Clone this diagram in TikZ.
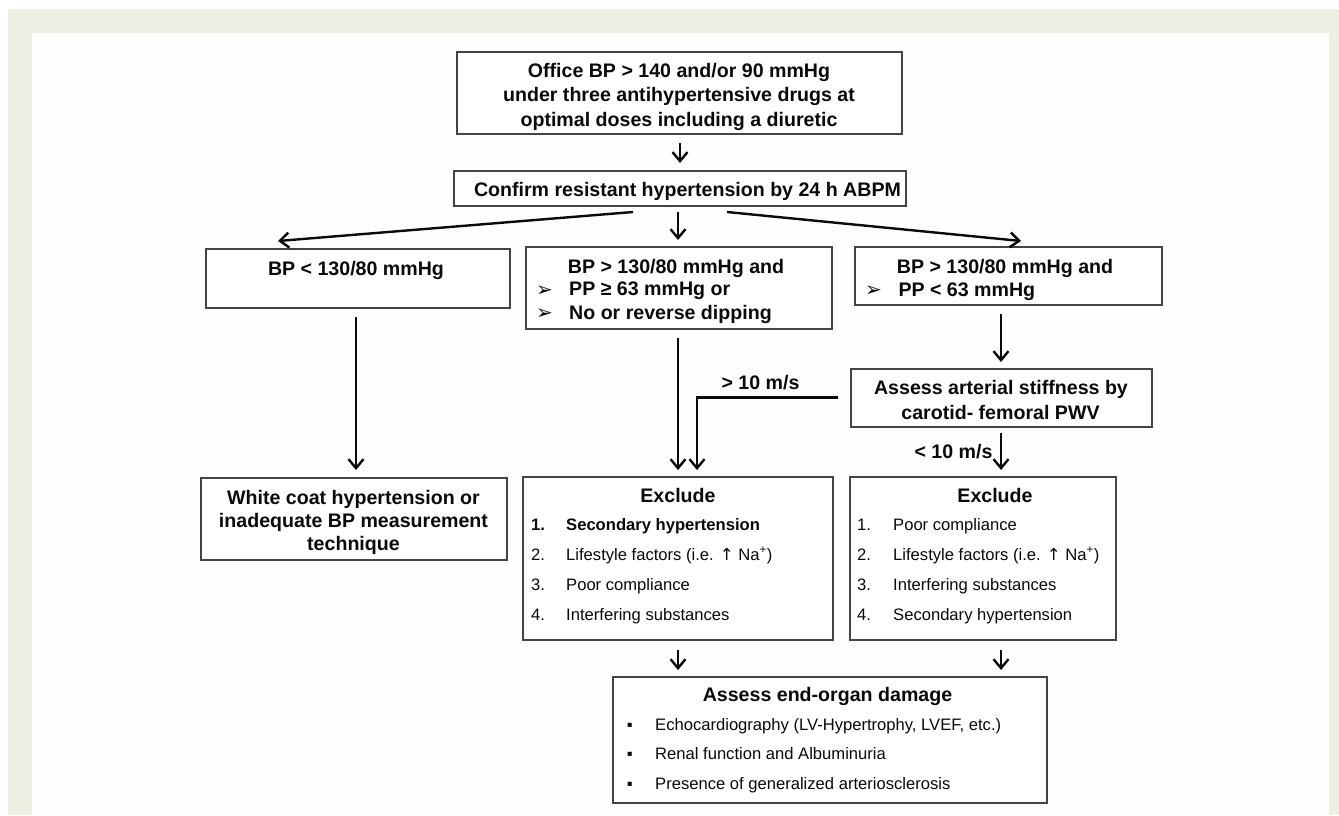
\documentclass[tikz,border=0pt]{standalone}
\usepackage{fontspec}
\setmainfont{Liberation Sans}
\newfontfamily\djv{DejaVu Sans}
\usetikzlibrary{arrows.meta,calc}
\definecolor{framec}{HTML}{EEEEE3}
\definecolor{boxc}{HTML}{444444}
\definecolor{ink}{HTML}{0A0A0A}
\newcommand{\uparr}{{\djv ↑}}
\begin{document}
\begin{tikzpicture}[x=1pt,y=-1pt,
  box/.style={draw=boxc, line width=1.6pt, fill=white, inner sep=0pt, outer sep=0pt},
  bt/.style={font=\bfseries\fontsize{19.6}{24}\selectfont, text=ink, inner sep=0pt, anchor=base},
  btl/.style={bt, anchor=base west},
  rt/.style={font=\fontsize{16.6}{20}\selectfont, text=ink, inner sep=0pt, anchor=base west},
  rtb/.style={font=\bfseries\fontsize{16.6}{20}\selectfont, text=ink, inner sep=0pt, anchor=base west},
  bul/.style={font=\djv\fontsize{20}{20}\selectfont, text=ink, inner sep=0pt, anchor=base west},
  arr/.style={draw=ink, line width=2.4pt, -{Straight Barb[length=9pt,width=15pt]}},
 ]
% background frame
\useasboundingbox (0,0) rectangle (1339,815);
\fill[white] (0,0) rectangle (1339,815);
\fill[framec] (8,9) rectangle (1339,815);
\fill[white!99.5!black] (32,33) rectangle (1329,815);

% boxes
\node[box, minimum width=445pt, minimum height=82pt] (office) at (679.5,93) {};
\node[bt] (office1) at (679,77) {Office BP > 140 and/or 90 mmHg};
\node[bt] (office2) at (679,101.5) {under three antihypertensive drugs at};
\node[bt] (office3) at (679,126) {optimal doses including a diuretic};

\node[box, minimum width=452pt, minimum height=35pt] (confirm) at (680,188.5) {};
\node[bt] (confirmt) at (687.5,196) {Confirm resistant hypertension by 24 h ABPM};

\node[box, minimum width=304pt, minimum height=59pt] (bplow) at (358,278.5) {};
\node[bt] (bplowt) at (356,275) {BP < 130/80 mmHg};

\node[box, minimum width=306pt, minimum height=82pt] (mid) at (679,288) {};
\node[btl] (mid1) at (567.7,273) {BP > 130/80 mmHg and};
\node[bul] (midb1) at (536,296) {➢};
\node[btl] (mid2) at (569,295.7) {PP ≥ 63 mmHg or};
\node[bul] (midb2) at (536,319.3) {➢};
\node[btl] (mid3) at (569,319) {No or reverse dipping};

\node[box, minimum width=307pt, minimum height=58pt] (rbox) at (1008.5,276) {};
\node[btl] (r1) at (896.7,273) {BP > 130/80 mmHg and};
\node[bul] (rb1) at (865,296.3) {➢};
\node[btl] (r2) at (898.3,296) {PP < 63 mmHg};

\node[box, minimum width=301pt, minimum height=58pt] (stiff) at (1001.5,398) {};
\node[bt] (stiff1) at (1001,394) {Assess arterial stiffness by};
\node[bt] (stiff2) at (1000.5,419) {carotid- femoral PWV};

\node[box, minimum width=306pt, minimum height=82pt] (white) at (354,519) {};
\node[bt] (w1) at (353.5,504) {White coat hypertension or};
\node[bt] (w2) at (353.5,527.3) {inadequate BP measurement};
\node[bt] (w3) at (353.5,550.7) {technique};

\node[box, minimum width=310pt, minimum height=163pt] (exl) at (678,558.5) {};
\node[bt] (exlh) at (678,502) {Exclude};
\node[rtb] (exln1) at (531,530) {1.};
\node[rtb] (exlt1) at (566,530) {Secondary hypertension};
\node[rt] (exln2) at (531,560) {2.};
\node[rt] (exlt2) at (566,560) {Lifestyle factors (i.e. \uparr\ Na\textsuperscript{+})};
\node[rt] (exln3) at (531,590) {3.};
\node[rt] (exlt3) at (566,590) {Poor compliance};
\node[rt] (exln4) at (531,620) {4.};
\node[rt] (exlt4) at (566,620) {Interfering substances};

\node[box, minimum width=266pt, minimum height=163pt] (exr) at (983,558.5) {};
\node[bt] (exrh) at (995,502) {Exclude};
\node[rt] (exrn1) at (857,530) {1.};
\node[rt] (exrt1) at (893,530) {Poor compliance};
\node[rt] (exrn2) at (857,560) {2.};
\node[rt] (exrt2) at (893,560) {Lifestyle factors (i.e. \uparr\ Na\textsuperscript{+})};
\node[rt] (exrn3) at (857,590) {3.};
\node[rt] (exrt3) at (893,590) {Interfering substances};
\node[rt] (exrn4) at (857,620) {4.};
\node[rt] (exrt4) at (893,620) {Secondary hypertension};

\node[box, minimum width=434pt, minimum height=126pt] (eod) at (830,740) {};
\node[bt] (eodh) at (827.5,701.7) {Assess end-organ damage};
\node[rt] (eodb1) at (626.7,730) {▪};
\node[rt] (eodt1) at (655,730) {Echocardiography (LV-Hypertrophy, LVEF, etc.)};
\node[rt] (eodb2) at (626.7,759.5) {▪};
\node[rt] (eodt2) at (655,759.5) {Renal function and Albuminuria};
\node[rt] (eodb3) at (626.7,789) {▪};
\node[rt] (eodt3) at (655,789) {Presence of generalized arteriosclerosis};

% labels
\node[bt] (gt10) at (760.5,389) {> 10 m/s};
\node[bt] (lt10) at (953.5,458) {< 10 m/s};

% connectors
\draw[arr] ($(office.south)+(0.5,9)$) -- ($(confirm.north)+(0,-8)$);
\draw[arr] ($(confirm.south)+(-47,6)$) -- ($(bplow.north)+(-80,-8)$);
\draw[arr] ($(confirm.south)+(-2,6)$) -- ($(mid.north)+(-1,-7)$);
\draw[arr] ($(confirm.south)+(47,6)$) -- ($(rbox.north)+(12.5,-6)$);
\draw[arr] ($(bplow.south)+(-2,9)$) -- ($(white.north)+(2,-8)$);
\draw[arr] ($(mid.south)+(-1,9)$) -- ($(exl.north)+(0,-7)$);
\draw[arr] ($(stiff.west)+(-13,-0.7)$) -| ($(exl.north)+(19,-7)$);
\draw[arr] ($(rbox.south)+(-7.5,9)$) -- ($(stiff.north)+(-0.5,-7)$);
\draw[arr] ($(stiff.south)+(-0.5,6)$) -- ($(exr.north)+(18,-7)$);
\draw[arr] ($(exl.south)+(0,10)$) -- ($(eod.north)+(-152,-7)$);
\draw[arr] ($(exr.south)+(18,10)$) -- ($(eod.north)+(171,-7)$);
\end{tikzpicture}
\end{document}
